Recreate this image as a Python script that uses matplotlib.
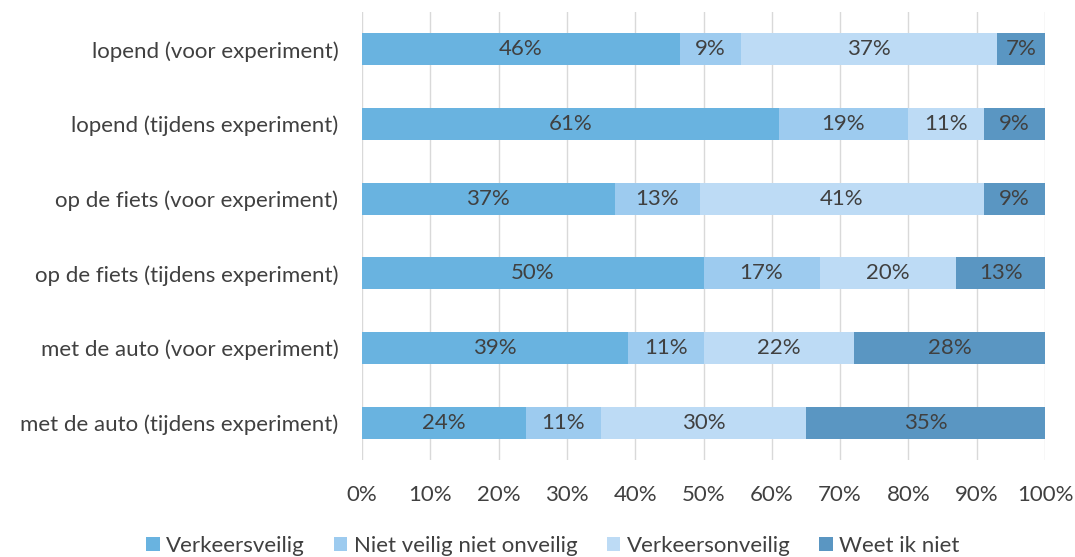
import matplotlib.pyplot as plt
import numpy as np

plt.rcParams['font.family'] = ['Lato', 'DejaVu Sans']

categories = [
    "lopend (voor experiment)",
    "lopend (tijdens experiment)",
    "op de fiets (voor experiment)",
    "op de fiets (tijdens experiment)",
    "met de auto (voor experiment)",
    "met de auto (tijdens experiment)",
]
series = ["Verkeersveilig", "Niet veilig niet onveilig", "Verkeersonveilig", "Weet ik niet"]
veilig = [46.5, 61, 37, 50, 39, 24]
neutraal = [9, 19, 12.5, 17, 11, 11]
onveilig = [37.5, 11, 41.5, 20, 22, 30]
weet_niet = [7, 9, 9, 13, 28, 35]
labels = [
    ["46%", "61%", "37%", "50%", "39%", "24%"],
    ["9%", "19%", "13%", "17%", "11%", "11%"],
    ["37%", "11%", "41%", "20%", "22%", "30%"],
    ["7%", "9%", "9%", "13%", "28%", "35%"],
]
colors = ["#69B3E0", "#9DCBEF", "#BDDBF5", "#5A96C2"]
text_col = "#404040"
fs = 16

fig = plt.figure(figsize=(10.75, 5.57), dpi=100)
ax = fig.add_axes([362 / 1075, 1 - 460 / 557, 683 / 1075, 448 / 557])

y = np.arange(len(categories))[::-1]
left = np.zeros(len(categories))
for vals, name, col, labs in zip([veilig, neutraal, onveilig, weet_niet], series, colors, labels):
    vals = np.array(vals, dtype=float)
    ax.barh(y, vals, left=left, height=0.43, color=col, label=name, zorder=2)
    for yi, l, v, t in zip(y, left, vals, labs):
        ax.text(l + v / 2, yi, t, ha="center", va="center", fontsize=fs, color=text_col, zorder=3)
    left += vals

ax.set_xlim(0, 100)
ax.set_ylim(-0.5, 5.5)
ax.set_xticks(np.arange(0, 101, 10))
ax.set_xticklabels([f"{v}%" for v in range(0, 101, 10)])
ax.set_yticks(y)
ax.set_yticklabels(categories)
ax.tick_params(axis="both", length=0, labelsize=fs, colors=text_col)
ax.tick_params(axis="x", pad=18)
ax.tick_params(axis="y", pad=17)
ax.grid(axis="x", color="#D9D9D9", linewidth=1, zorder=0)
for s in ax.spines.values():
    s.set_visible(False)

fig.legend(loc="center", bbox_to_anchor=(553 / 1075, 1 - 546 / 557), ncol=4, frameon=False,
           fontsize=fs, labelcolor=text_col, handlelength=0.6, handleheight=0.6,
           handletextpad=0.3, columnspacing=1.3)

fig.savefig("out.png", dpi=100)
